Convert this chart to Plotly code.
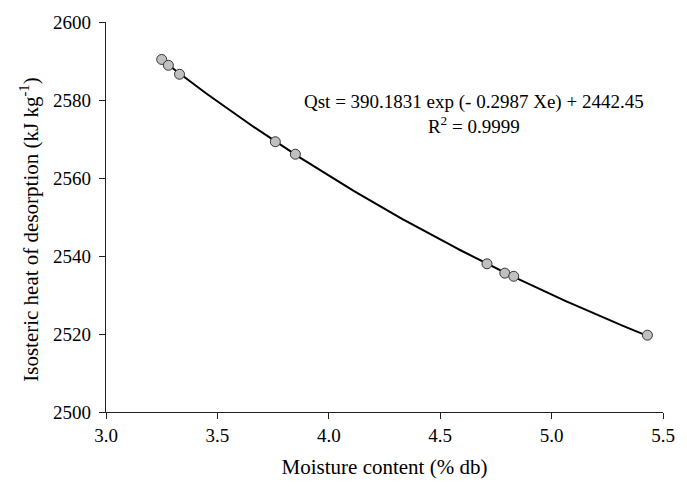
import numpy as np
import plotly.graph_objects as go

# Data
moisture = [3.25, 3.28, 3.33, 3.76, 3.85, 4.71, 4.79, 4.83, 5.43]
heat = [2590.4, 2588.9, 2586.6, 2569.3, 2566.1, 2538.0, 2535.6, 2534.8, 2519.7]

# Regression coefficients printed on the chart: Qst = a exp(-b Xe) + c
coef_a = 390.1831
coef_b = 0.2987
coef_c = 2442.45
r_squared = 0.9999

x_ticks = [3.0, 3.5, 4.0, 4.5, 5.0, 5.5]
y_ticks = [2500, 2520, 2540, 2560, 2580, 2600]

FONT = "Liberation Serif"

fit_x = np.linspace(min(moisture), max(moisture), 200)
fit_y = coef_a * np.exp(-coef_b * fit_x) + coef_c

fig = go.Figure()
fig.add_trace(go.Scatter(
    x=fit_x, y=fit_y, mode="lines",
    line=dict(color="black", width=2),
    showlegend=False, hoverinfo="skip",
))
fig.add_trace(go.Scatter(
    x=moisture, y=heat, mode="markers",
    marker=dict(size=10, color="#c0c0c0", line=dict(color="#333333", width=1)),
    showlegend=False,
))

fig.add_annotation(
    x=4.65, y=2576.5, xref="x", yref="y",
    xanchor="center", yanchor="middle",
    text=f"Qst = {coef_a} exp (- {coef_b} Xe) + {coef_c}<br>R<sup>2</sup> = {r_squared}",
    showarrow=False, align="center",
    font=dict(family=FONT, size=19, color="black"),
)

fig.add_annotation(
    x=-0.1377, y=0.468, xref="paper", yref="paper",
    xanchor="center", yanchor="middle",
    text="Isosteric heat of desorption (kJ kg<sup>-1</sup>)",
    textangle=-90, showarrow=False,
    font=dict(family=FONT, size=21, color="black"),
)

fig.update_layout(
    width=687, height=487,
    margin=dict(l=106, r=24, t=17.5, b=73.5, pad=0),
    paper_bgcolor="white", plot_bgcolor="white",
    font=dict(family=FONT, size=19, color="black"),
)
fig.update_xaxes(
    range=[3.0, 5.5], tickvals=x_ticks, ticktext=[f"{v:.1f}" for v in x_ticks],
    tickfont=dict(family=FONT, size=19, color="black"),
    showgrid=False, zeroline=False, showline=True, linecolor="#222222", linewidth=1.2,
    ticks="outside", ticklen=6, tickwidth=1.2, tickcolor="#222222",
    title=dict(text="Moisture content (% db)", font=dict(family=FONT, size=21), standoff=14),
)
fig.update_yaxes(
    range=[2500, 2600], tickvals=y_ticks,
    tickfont=dict(family=FONT, size=19, color="black"),
    showgrid=False, zeroline=False, showline=True, linecolor="#222222", linewidth=1.2,
    ticks="outside", ticklen=6, tickwidth=1.2, tickcolor="#222222",
    ticklabelstandoff=4,
)

fig.write_html(
    "out.html",
    config={"displayModeBar": False},
    post_script="document.body.style.margin='0';",
)
